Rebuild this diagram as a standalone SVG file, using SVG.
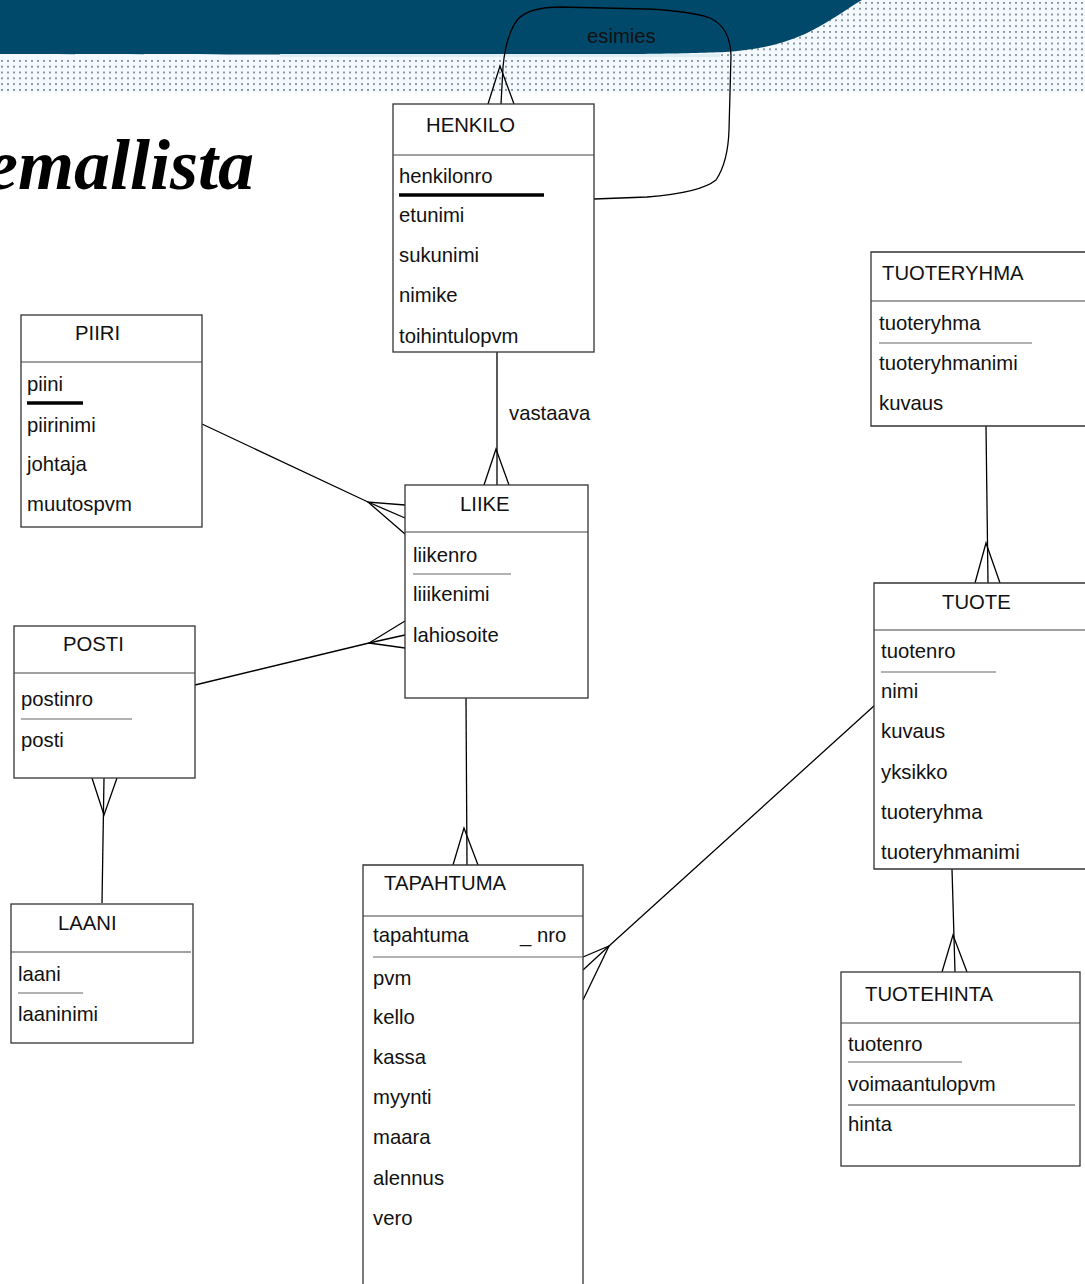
<svg xmlns="http://www.w3.org/2000/svg" width="1085" height="1284" viewBox="0 0 1085 1284">
<style>
.box{fill:#fff;stroke:#333;stroke-width:1.3}
.div{stroke:#444;stroke-width:1.2;fill:none}
.ul{stroke:#666;stroke-width:1.2}
.ulb{stroke:#000;stroke-width:3.5}
.t{font-family:"Liberation Sans",Arial,sans-serif;font-size:20.3px;fill:#111}
.con{stroke:#000;stroke-width:1.3;fill:none}
</style>
<defs>
<pattern id="dots" x="0" y="1" width="6" height="5.8" patternUnits="userSpaceOnUse">
<rect x="1" y="1" width="2" height="1.8" fill="#85929c"/>
</pattern>
</defs>
<rect width="1085" height="1284" fill="#fff"/>
<g id="banner">
<rect x="0" y="0" width="1085" height="93" fill="#f3f9fc"/>
<rect x="0" y="58" width="1085" height="35" fill="url(#dots)"/>
<path d="M730,0 H1085 V58 H700 Z" fill="url(#dots)"/>
<path d="M0,0 H862 C845,10 830,22 805,34 C780,45 755,50 725,52 C650,55 560,55 0,54 Z" fill="#01496a"/>
<rect x="280" y="54" width="440" height="3" fill="#dfeef5"/>
</g>
<text x="-14" y="189" font-family="'Liberation Serif','Times New Roman',serif" font-size="72" font-weight="bold" font-style="italic" fill="#000">emallista</text>
<g id="connectors">
<path class="con" d="M594,199 L647,197 Q700,193 716,180 Q728,162 729,130 L731,55 Q730,27 710,18 Q690,11 647,9 L560,7 Q530,7 518,19 Q506,34 503,67 L501,104"/>
<path class="con" d="M488,104 L500,66 L514,104"/>
<text class="t" x="587" y="43" font-size="19.5">esimies</text>
<path class="con" d="M497,352 L497,485"/>
<path class="con" d="M484,485 L496,449 L509,485"/>
<text class="t" x="509" y="420">vastaava</text>
<path class="con" d="M202,424 L368,502 L405,518"/>
<path class="con" d="M405,505 L368,502 L405,534"/>
<path class="con" d="M195,685 L369,643 L405,635"/>
<path class="con" d="M405,621 L369,643 L405,648"/>
<path class="con" d="M102,903 L104,778"/>
<path class="con" d="M92,778 L104,815 L117,778"/>
<path class="con" d="M466,698 L467,865"/>
<path class="con" d="M453,865 L464,828 L478,865"/>
<path class="con" d="M875,705 L609,946 L583,970"/>
<path class="con" d="M583,957 L609,946 L583,1000"/>
<path class="con" d="M986,426 L988,583"/>
<path class="con" d="M975,583 L986,543 L1000,583"/>
<path class="con" d="M952,869 L955,972"/>
<path class="con" d="M942,972 L953,935 L967,972"/>
</g>
<g id="HENKILO">
<rect class="box" x="393" y="104" width="201" height="248"/>
<line class="div" x1="393" y1="155" x2="594" y2="155"/>
<text class="t" x="426" y="132">HENKILO</text>
<text class="t" x="399" y="183">henkilonro</text>
<line class="ulb" x1="399" y1="195" x2="544" y2="195"/>
<text class="t" x="399" y="222">etunimi</text>
<text class="t" x="399" y="262">sukunimi</text>
<text class="t" x="399" y="302">nimike</text>
<text class="t" x="399" y="343">toihintulopvm</text>
</g>
<g id="PIIRI">
<rect class="box" x="21" y="315" width="181" height="212"/>
<line class="div" x1="21" y1="362" x2="202" y2="362"/>
<text class="t" x="75" y="340">PIIRI</text>
<text class="t" x="27" y="391">piini</text>
<line class="ulb" x1="27" y1="403" x2="83" y2="403"/>
<text class="t" x="27" y="432">piirinimi</text>
<text class="t" x="27" y="471">johtaja</text>
<text class="t" x="27" y="511">muutospvm</text>
</g>
<g id="LIIKE">
<rect class="box" x="405" y="485" width="183" height="213"/>
<line class="div" x1="405" y1="532" x2="588" y2="532"/>
<text class="t" x="460" y="511">LIIKE</text>
<text class="t" x="413" y="562">liikenro</text>
<line class="ul" x1="413" y1="574" x2="511" y2="574"/>
<text class="t" x="413" y="601">liiikenimi</text>
<text class="t" x="413" y="642">lahiosoite</text>
</g>
<g id="POSTI">
<rect class="box" x="14" y="626" width="181" height="152"/>
<line class="div" x1="14" y1="673" x2="195" y2="673"/>
<text class="t" x="63" y="651">POSTI</text>
<text class="t" x="21" y="706">postinro</text>
<line class="ul" x1="21" y1="719" x2="132" y2="719"/>
<text class="t" x="21" y="747">posti</text>
</g>
<g id="LAANI">
<rect class="box" x="11" y="904" width="182" height="139"/>
<line class="div" x1="11" y1="952" x2="191" y2="952"/>
<text class="t" x="58" y="930">LAANI</text>
<text class="t" x="18" y="981">laani</text>
<line class="ul" x1="18" y1="993" x2="83" y2="993"/>
<text class="t" x="18" y="1021">laaninimi</text>
</g>
<g id="TAPAHTUMA">
<path class="box" d="M363,1290 V865 H583 V1290"/>
<line class="div" x1="363" y1="916" x2="583" y2="916"/>
<text class="t" x="384" y="890">TAPAHTUMA</text>
<text class="t" x="373" y="942">tapahtuma</text>
<text class="t" x="520" y="942">_ nro</text>
<line class="ul" x1="373" y1="957" x2="583" y2="957"/>
<text class="t" x="373" y="985">pvm</text>
<text class="t" x="373" y="1024">kello</text>
<text class="t" x="373" y="1064">kassa</text>
<text class="t" x="373" y="1104">myynti</text>
<text class="t" x="373" y="1144">maara</text>
<text class="t" x="373" y="1185">alennus</text>
<text class="t" x="373" y="1225">vero</text>
</g>
<g id="TUOTERYHMA">
<path class="box" d="M1090,252 H871 V426 H1090"/>
<line class="div" x1="871" y1="301" x2="1085" y2="301"/>
<text class="t" x="882" y="280">TUOTERYHMA</text>
<text class="t" x="879" y="330">tuoteryhma</text>
<line class="ul" x1="879" y1="343" x2="1032" y2="343"/>
<text class="t" x="879" y="370">tuoteryhmanimi</text>
<text class="t" x="879" y="410">kuvaus</text>
</g>
<g id="TUOTE">
<path class="box" d="M1090,583 H874 V869 H1090"/>
<line class="div" x1="874" y1="630" x2="1085" y2="630"/>
<text class="t" x="942" y="609">TUOTE</text>
<text class="t" x="881" y="658">tuotenro</text>
<line class="ul" x1="881" y1="672" x2="996" y2="672"/>
<text class="t" x="881" y="698">nimi</text>
<text class="t" x="881" y="738">kuvaus</text>
<text class="t" x="881" y="779">yksikko</text>
<text class="t" x="881" y="819">tuoteryhma</text>
<text class="t" x="881" y="859">tuoteryhmanimi</text>
</g>
<g id="TUOTEHINTA">
<rect class="box" x="841" y="972" width="239" height="194"/>
<line class="div" x1="841" y1="1023" x2="1080" y2="1023"/>
<text class="t" x="865" y="1001">TUOTEHINTA</text>
<text class="t" x="848" y="1051">tuotenro</text>
<line class="ul" x1="848" y1="1062" x2="962" y2="1062"/>
<text class="t" x="848" y="1091">voimaantulopvm</text>
<line class="div" x1="848" y1="1105" x2="1075" y2="1105"/>
<text class="t" x="848" y="1131">hinta</text>
</g>
</svg>
